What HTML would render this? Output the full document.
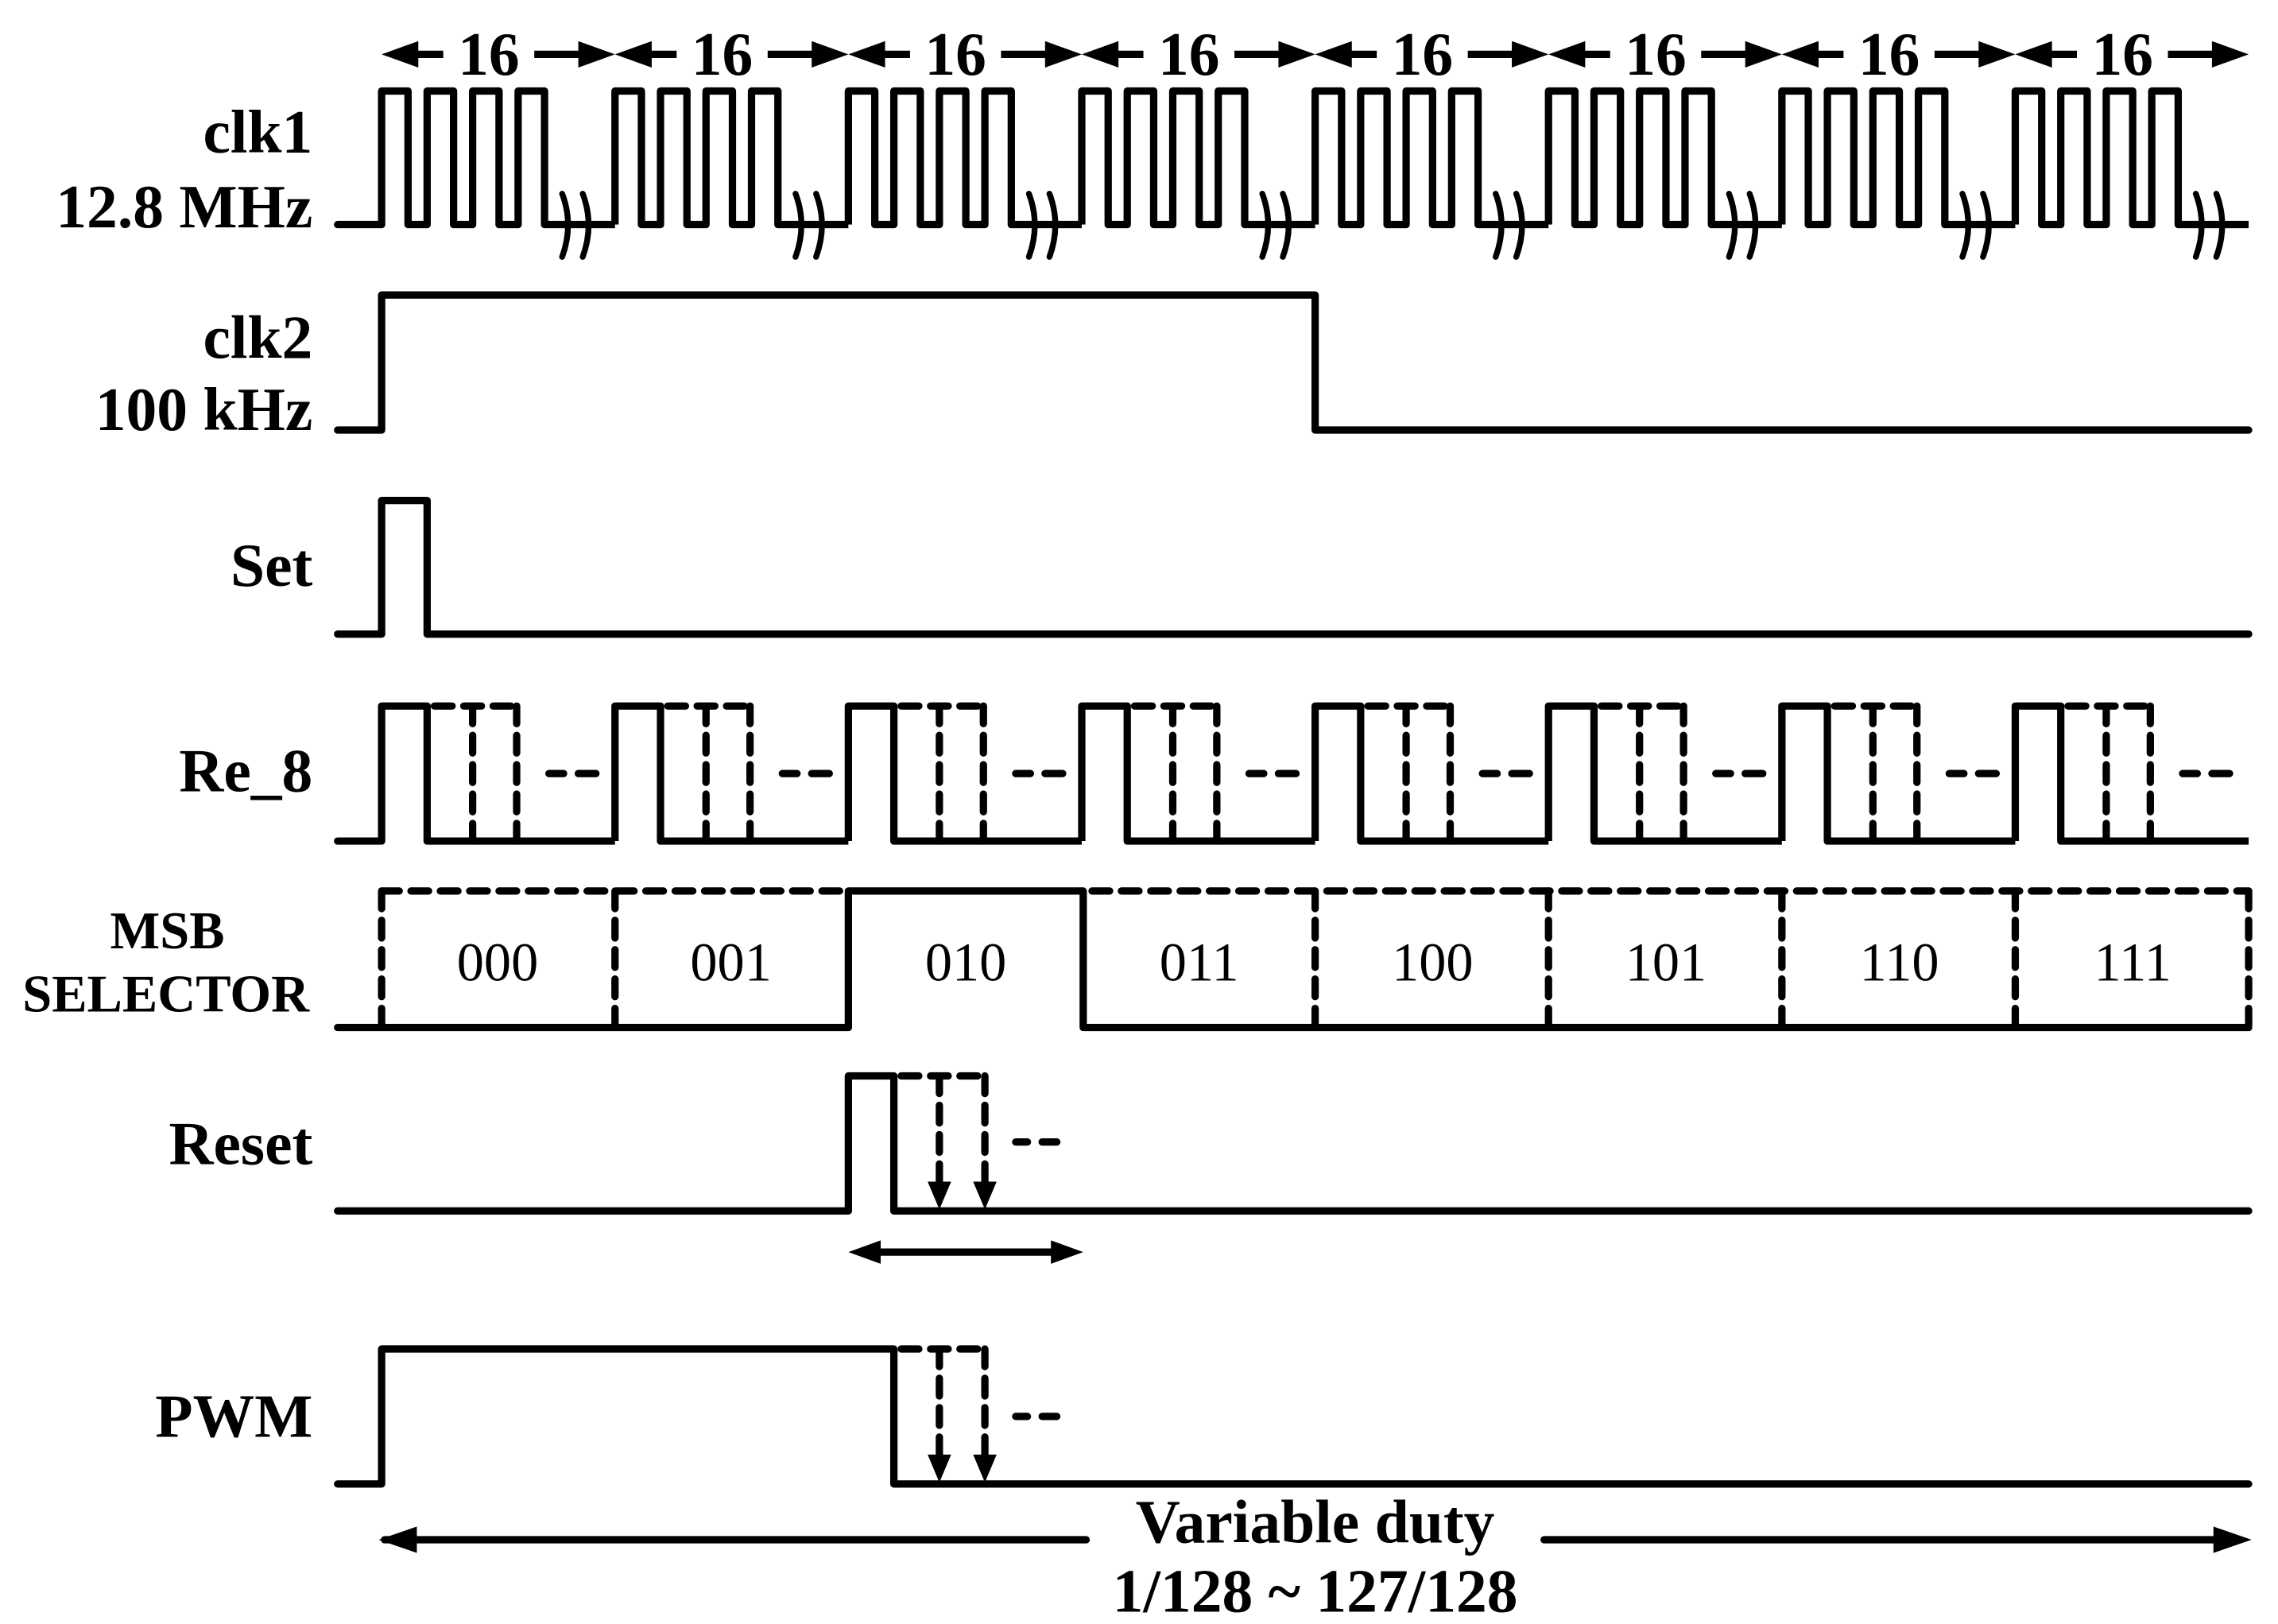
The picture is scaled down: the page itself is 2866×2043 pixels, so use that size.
<!DOCTYPE html>
<html><head><meta charset="utf-8"><style>
html,body{margin:0;padding:0;background:#fff;}
svg{display:block;}
text{font-family:"Liberation Serif","DejaVu Serif",serif;fill:#000;}
</style></head><body>
<svg width="2866" height="2043" viewBox="0 0 1552 1106.4" preserveAspectRatio="none" xmlns="http://www.w3.org/2000/svg">
<defs>
<g id="c1">
 <path d="M0,153 V62 H18 V153 H31 V62 H49 V153 H62 V62 H80 V153 H93 V62 H111 V153 H159" fill="none" stroke="#000" stroke-width="5" stroke-linejoin="round"/>
 <path d="M123,132 Q131,153 123,175 M137,132 Q145,153 137,175" fill="none" stroke="#000" stroke-width="4" stroke-linecap="round"/>
</g>
<g id="ar">
 <polygon points="0,37 25,28 25,46"/>
 <line x1="15" y1="37" x2="42" y2="37" stroke="#000" stroke-width="5"/>
 <text x="73" y="51" font-size="42" font-weight="bold" text-anchor="middle">16</text>
 <line x1="104" y1="37" x2="140" y2="37" stroke="#000" stroke-width="5"/>
 <polygon points="159,37 134,28 134,46"/>
</g>
<g id="re">
 <path d="M0,573 V481 H31 V573 H159" fill="none" stroke="#000" stroke-width="5" stroke-linejoin="round"/>
 <path d="M36,481 H92 M62,481 V573 M92,481 V573" fill="none" stroke="#000" stroke-width="5" stroke-dasharray="12 8" stroke-linecap="round"/>
 <path d="M114,527 H124 M134,527 H146" fill="none" stroke="#000" stroke-width="5" stroke-linecap="round"/>
</g>
</defs>

<g font-weight="bold" font-size="42" text-anchor="end">
<text x="213" y="104">clk1</text>
<text x="213" y="155">12.8 MHz</text>
<text x="213" y="244">clk2</text>
<text x="213" y="293">100 kHz</text>
<text x="213" y="399">Set</text>
<text x="213" y="539">Re_8</text>
<text x="213" y="793">Reset</text>
<text x="213" y="979">PWM</text>
</g>
<g font-weight="bold" font-size="36" text-anchor="middle">
<text x="114" y="646">MSB</text>
<text x="113" y="689">SELECTOR</text>
</g>

<use href="#ar" x="260"/><use href="#ar" x="419"/><use href="#ar" x="578"/><use href="#ar" x="737"/>
<use href="#ar" x="896"/><use href="#ar" x="1055"/><use href="#ar" x="1214"/><use href="#ar" x="1373"/>

<line x1="230" y1="153" x2="260" y2="153" stroke="#000" stroke-width="5" stroke-linecap="round"/>
<use href="#c1" x="260"/><use href="#c1" x="419"/><use href="#c1" x="578"/><use href="#c1" x="737"/>
<use href="#c1" x="896"/><use href="#c1" x="1055"/><use href="#c1" x="1214"/><use href="#c1" x="1373"/>

<g fill="none" stroke="#000" stroke-width="5" stroke-linejoin="round" stroke-linecap="round">
<path d="M230,293 H260 V201 H896 V293 H1532"/>
<path d="M230,432 H260 V341 H291 V432 H1532"/>
<path d="M230,573 H260"/>
<path d="M230,700 H578 V607 H738 V700 H1532"/>
<path d="M230,825 H578 V733 H609 V825 H1532"/>
<path d="M230,1011 H260 V919 H609 V1011 H1532"/>
<path d="M592,853 H724"/>
<path d="M262,1049 H740 M1052,1049 H1518"/>
</g>

<use href="#re" x="260"/><use href="#re" x="419"/><use href="#re" x="578"/><use href="#re" x="737"/>
<use href="#re" x="896"/><use href="#re" x="1055"/><use href="#re" x="1214"/><use href="#re" x="1373"/>

<g fill="none" stroke="#000" stroke-width="5" stroke-dasharray="12 8" stroke-linecap="round">
<path d="M260,607 H578 M744,607 H1532"/>
<path d="M260,607 V700 M419,607 V700 M896,607 V700 M1055,607 V700 M1214,607 V700 M1373,607 V700 M1532,607 V700"/>
<path d="M614,733 H671 M640,733 V808 M671,733 V808"/>
<path d="M614,919 H671 M640,919 V994 M671,919 V994"/>
</g>
<g fill="none" stroke="#000" stroke-width="5" stroke-linecap="round">
<path d="M692,778 H700 M710,778 H720"/>
<path d="M692,965 H700 M710,965 H720"/>
</g>
<g>
<polygon points="640,824 632,805 648,805"/><polygon points="671,824 663,805 679,805"/>
<polygon points="640,1010 632,991 648,991"/><polygon points="671,1010 663,991 679,991"/>
<polygon points="578,853 600,845 600,861"/><polygon points="738,853 716,845 716,861"/>
<polygon points="258,1049 284,1040 284,1058"/><polygon points="1534,1049 1508,1040 1508,1058"/>
</g>

<g font-size="37" text-anchor="middle">
<text x="339" y="668">000</text>
<text x="498" y="668">001</text>
<text x="658" y="668">010</text>
<text x="817" y="668">011</text>
<text x="976" y="668">100</text>
<text x="1135" y="668">101</text>
<text x="1294" y="668">110</text>
<text x="1453" y="668">111</text>
</g>
<g font-size="42" font-weight="bold" text-anchor="middle">
<text x="896" y="1051">Variable duty</text>
<text x="896" y="1098">1/128 ~ 127/128</text>
</g>
</svg>
</body></html>
